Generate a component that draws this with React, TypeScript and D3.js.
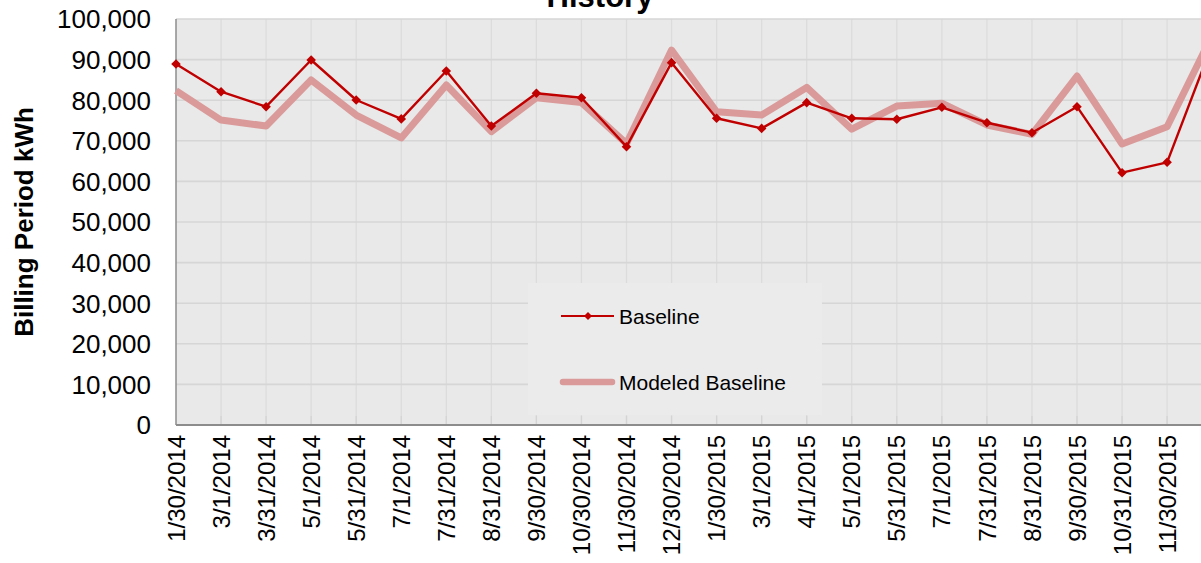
// Billing history line chart: metered baseline vs modeled baseline kWh per billing period

import React, { useEffect, useRef } from "react"
import * as d3 from "d3"

const periods = [
  "1/30/2014", "3/1/2014", "3/31/2014", "5/1/2014", "5/31/2014", "7/1/2014",
  "7/31/2014", "8/31/2014", "9/30/2014", "10/30/2014", "11/30/2014", "12/30/2014",
  "1/30/2015", "3/1/2015", "4/1/2015", "5/1/2015", "5/31/2015", "7/1/2015",
  "7/31/2015", "8/31/2015", "9/30/2015", "10/31/2015", "11/30/2015", "12/30/2015",
]

const baseline = [
  88900, 82100, 78400, 89900, 80050, 75400, 87200, 73650, 81700, 80600, 68550, 89250,
  75550, 73050, 79400, 75550, 75300, 78250, 74450, 72000, 78400, 62150, 64700, 93700,
]

const modeledBaseline = [
  82350, 75100, 73650, 85000, 76350, 70700, 83750, 72250, 80600, 79400, 69300, 92350,
  77150, 76350, 83150, 72850, 78550, 79250, 73900, 71600, 85950, 69200, 73450, 96000,
]

const yTicks = [0, 10000, 20000, 30000, 40000, 50000, 60000, 70000, 80000, 90000, 100000]

const FONT = "'Liberation Sans', Arial, sans-serif"

function App() {
  const ref = useRef<SVGSVGElement>(null)

  useEffect(() => {
    const width = 1201
    const height = 563
    const left = 176
    const top = 19
    const bottom = 425
    const step = 45.05
    const right = left + step * (periods.length - 1)

    const svg = d3.select(ref.current)
    svg.selectAll("*").remove()
    svg.attr("width", width).attr("height", height)

    const x = d3.scalePoint<string>().domain(periods).range([left, right])
    const y = d3.scaleLinear().domain([0, 100000]).range([bottom, top])

    // plot background
    svg.append("rect")
      .attr("x", left).attr("y", top)
      .attr("width", right + 30 - left).attr("height", bottom - top)
      .attr("fill", "#e9e9e9")

    // gridlines
    svg.append("g")
      .selectAll("line")
      .data(periods.slice(1))
      .enter()
      .append("line")
      .attr("x1", d => x(d)!).attr("x2", d => x(d)!)
      .attr("y1", top).attr("y2", bottom)
      .attr("stroke", "#dcdcdc").attr("stroke-width", 1.3)

    svg.append("g")
      .selectAll("line")
      .data(yTicks.slice(1))
      .enter()
      .append("line")
      .attr("x1", left).attr("x2", right + 30)
      .attr("y1", d => y(d)).attr("y2", d => y(d))
      .attr("stroke", "#d6d6d6").attr("stroke-width", 1.6)

    // legend box sits over the gridlines
    svg.append("rect")
      .attr("x", 528).attr("y", 283)
      .attr("width", 294).attr("height", 132)
      .attr("fill", "#ebebeb")

    // inward tick marks on the category axis
    svg.append("g")
      .selectAll("line")
      .data(periods.slice(1))
      .enter()
      .append("line")
      .attr("x1", d => x(d)!).attr("x2", d => x(d)!)
      .attr("y1", bottom - 9).attr("y2", bottom)
      .attr("stroke", "#d4d4d4").attr("stroke-width", 1.3)

    // axes
    svg.append("line")
      .attr("x1", left).attr("x2", left).attr("y1", top).attr("y2", bottom)
      .attr("stroke", "#8c8c8c").attr("stroke-width", 1.5)
    svg.append("line")
      .attr("x1", left).attr("x2", right + 30).attr("y1", bottom).attr("y2", bottom)
      .attr("stroke", "#8c8c8c").attr("stroke-width", 2)

    // y tick labels
    svg.append("g")
      .selectAll("text")
      .data(yTicks)
      .enter()
      .append("text")
      .attr("x", 151).attr("y", d => y(d)).attr("dy", "0.36em")
      .attr("text-anchor", "end")
      .style("font-family", FONT).style("font-size", "26px").attr("fill", "#000")
      .text(d => d3.format(",")(d))

    // x tick labels, rotated (the last one falls past the right edge)
    svg.append("g")
      .selectAll("text")
      .data(periods.filter(d => x(d)! < width))
      .enter()
      .append("text")
      .attr("transform", d => `translate(${x(d)},435) rotate(-90)`)
      .attr("dy", "0.36em")
      .attr("text-anchor", "end")
      .style("font-family", FONT).style("font-size", "24px").attr("fill", "#000")
      .text(d => d)

    // lines
    const line = d3.line<number>()
      .x((d, i) => x(periods[i])!)
      .y(d => y(d))

    svg.append("path")
      .datum(modeledBaseline)
      .attr("d", line)
      .attr("fill", "none")
      .attr("stroke", "#da9a9a")
      .attr("stroke-width", 7)
      .attr("stroke-linejoin", "round")

    svg.append("path")
      .datum(baseline)
      .attr("d", line)
      .attr("fill", "none")
      .attr("stroke", "#c00000")
      .attr("stroke-width", 2.4)
      .attr("stroke-linejoin", "round")

    const diamond = d3.symbol().type(d3.symbolSquare).size(46)
    svg.append("g")
      .selectAll("path")
      .data(baseline)
      .enter()
      .append("path")
      .attr("d", diamond)
      .attr("transform", (d, i) => `translate(${x(periods[i])},${y(d)}) rotate(45)`)
      .attr("fill", "#c00000")

    // legend
    const lg = svg.append("g")
    lg.append("line")
      .attr("x1", 561).attr("x2", 614).attr("y1", 316).attr("y2", 316)
      .attr("stroke", "#c00000").attr("stroke-width", 2.2)
    lg.append("path")
      .attr("d", d3.symbol().type(d3.symbolSquare).size(32))
      .attr("transform", "translate(588,316) rotate(45)")
      .attr("fill", "#c00000")
    lg.append("line")
      .attr("x1", 563).attr("x2", 612).attr("y1", 382).attr("y2", 382)
      .attr("stroke", "#da9a9a").attr("stroke-width", 6.5)
      .attr("stroke-linecap", "round")
    lg.selectAll("text")
      .data([["Baseline", 316], ["Modeled Baseline", 382]])
      .enter()
      .append("text")
      .attr("x", 619).attr("y", d => d[1]).attr("dy", "0.36em")
      .style("font-family", FONT).style("font-size", "21px").attr("fill", "#000")
      .text(d => d[0])

    // titles (the chart title is cut by the top edge, as in the source)
    svg.append("text")
      .attr("x", 600).attr("y", 7)
      .attr("text-anchor", "middle")
      .style("font-family", FONT).style("font-size", "31px").style("font-weight", "bold")
      .text("History")

    svg.append("text")
      .attr("transform", "translate(33,222) rotate(-90)")
      .attr("text-anchor", "middle")
      .style("font-family", FONT).style("font-size", "26px").style("font-weight", "bold")
      .text("Billing Period kWh")
  }, [])

  return (
    <svg ref={ref} style={{ position: "absolute", left: 0, top: 0, display: "block" }}></svg>
  )
}

export default App
